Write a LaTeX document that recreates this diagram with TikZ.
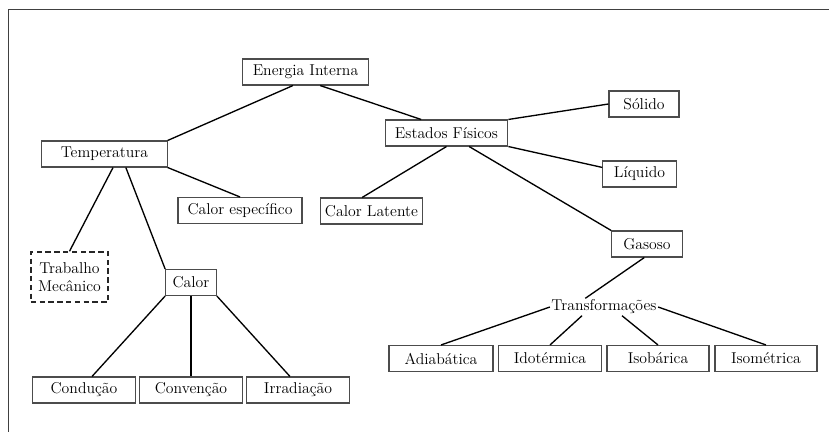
\documentclass[tikz,border=0pt]{standalone}
\usepackage{tikz}
\usetikzlibrary{positioning}

\begin{document}
\begin{tikzpicture}[x=0.75pt, y=-0.75pt, font=\fontsize{11.8}{14}\selectfont]

    % --- STILE ---
    % Kästen mit dünnem grauem Rand, Verbindungen schwarz
    \tikzset{conceptbox/.style={draw=black!70, line width=0.8pt, minimum height=19.5pt, inner sep=2pt}}
    \tikzset{dashbox/.style={draw=black!85, line width=1.1pt, dash pattern=on 4pt off 2.6pt, minimum width=58pt, minimum height=37.5pt, align=center, inner sep=1pt}}
    \tikzset{link/.style={draw=black, line width=1pt}}

    % Bildgröße wie im Original
    \useasboundingbox (0,0) rectangle (829,432);

    % --- RAHMEN (nur oben und links) ---
    \draw[black!75, line width=1.2pt] (8.5,432) -- (8.5,9.5) -- (829,9.5);

    % --- OBERE EBENE ---
    \node[conceptbox, minimum width=94pt] (energia) at (305.5,72) {Energia Interna};
    \node[conceptbox, minimum width=94pt] (temperatura) at (104.5,154) {Temperatura};
    \node[conceptbox, minimum width=92pt] (estados) at (446.5,133) {Estados Físicos};

    % --- TEMPERATUR-ZWEIG ---
    \node[conceptbox, minimum width=93pt] (calesp) at (240,210.5) {Calor específico};
    \node[dashbox] (trabalho) at (69.5,277) {Trabalho\\Mecânico};
    \node[conceptbox, minimum width=38pt] (calor) at (191,282.5) {Calor};
    \node[conceptbox, minimum width=77pt] (conducao) at (84,390) {Condução};
    \node[conceptbox, minimum width=77pt] (convencao) at (191,390) {Convenção};
    \node[conceptbox, minimum width=77pt] (irradiacao) at (298,390) {Irradiação};

    % --- AGGREGATZUSTÄNDE ---
    \node[conceptbox, minimum width=76pt] (callat) at (371.5,211) {Calor Latente};
    \node[conceptbox, minimum width=52.5pt] (solido) at (644,104) {Sólido};
    \node[conceptbox, minimum width=55pt] (liquido) at (639.5,174) {Líquido};
    \node[conceptbox, minimum width=53pt] (gasoso) at (647,244) {Gasoso};

    % --- TRANSFORMATIONEN ---
    \node[inner sep=1pt] (trans) at (604,307) {Transformações};
    \node[conceptbox, minimum width=78pt] (adiab) at (441,358.5) {Adiabática};
    \node[conceptbox, minimum width=77pt] (idot) at (550,358.5) {Idotérmica};
    \node[conceptbox, minimum width=76.5pt] (isob) at (658,358.5) {Isobárica};
    \node[conceptbox, minimum width=76.5pt] (isom) at (766,358.5) {Isométrica};

    % --- VERBINDUNGEN ---
    \draw[link] ([xshift=-9.4pt]energia.south) -- (temperatura.north east);
    \draw[link] ([xshift=11pt]energia.south) -- ([xshift=-19pt]estados.north);
    \draw[link] (temperatura.south east) -- (calesp.north);
    \draw[link] ([xshift=6.4pt]temperatura.south) -- (trabalho.north);
    \draw[link] ([xshift=16pt]temperatura.south) -- (calor.north west);
    \draw[link] (calor.south west) -- ([xshift=6pt]conducao.north);
    \draw[link] (calor.south) -- (convencao.north);
    \draw[link] (calor.south east) -- ([xshift=-6pt]irradiacao.north);
    \draw[link] (estados.south) -- ([xshift=-7pt]callat.north);
    \draw[link] (estados.north east) -- (solido.west);
    \draw[link] (estados.south east) -- (liquido.170);
    \draw[link] ([xshift=17pt]estados.south) -- (gasoso.north west);
    \draw[link] ([xshift=-2pt]gasoso.south) -- ([xshift=-14pt]trans.north);
    \draw[link] (trans.west) -- (adiab.north);
    \draw[link] ([xshift=-16.5pt]trans.south) -- (idot.north);
    \draw[link] ([xshift=13.5pt]trans.south) -- (isob.north);
    \draw[link] (trans.east) -- (isom.north);

\end{tikzpicture}
\end{document}
